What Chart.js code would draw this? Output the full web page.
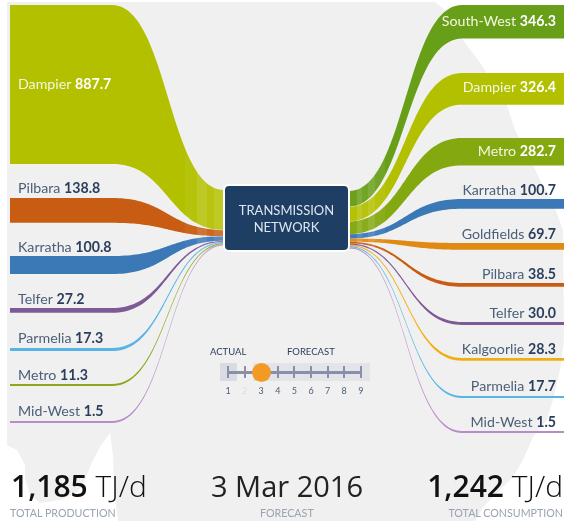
<!DOCTYPE html>
<html>
<head>
<meta charset="utf-8">
<script src="https://cdn.jsdelivr.net/npm/chart.js@4"></script>
<style>
    html, body { margin: 0; padding: 0; background: #fff; }
    #page { position: relative; width: 565px; height: 521px; overflow: hidden; font-family: Lato, sans-serif; color: #2b3e5c; }
    #map { position: absolute; inset: 0; background: #f0f0f0;
        clip-path: polygon(7px 2px, 435px 2px, 445px 10px, 455px 25px, 463px 40px, 478px 60px, 495px 85px, 507px 105px, 515px 130px, 533px 165px, 540px 180px, 552px 200px, 563px 230px, 564px 340px, 560px 370px, 553px 400px, 547px 420px, 533px 437px, 523px 460px, 513px 477px, 483px 507px, 475px 521px, 118px 521px, 114px 490px, 113px 455px, 110px 433px, 100px 447px, 92px 462px, 85px 480px, 78px 492px, 60px 500px, 40px 503px, 30px 495px, 25px 478px, 25px 465px, 17px 450px, 7px 445px); }
    canvas { position: absolute; left: 0; top: 0; }
    .abs { position: absolute; white-space: nowrap; }
    #network { left: 223px; top: 184px; width: 123px; height: 64px; background: #1e3f63; border: 2px solid #fff; border-radius: 6px; color: #dce6f0; font-size: 13px; line-height: 17px; text-align: center; padding-top: 0; }
    #network div { position: relative; top: 16px; }
    .bar { top: 363px; height: 18px; }
    .tick { top: 366px; width: 2px; height: 12px; background: #8a8ea8; }
    .num { top: 385px; width: 16px; text-align: center; font-size: 9px; color: #4b5f78; }
    .big { top: 466px; font-family: "Open Sans", sans-serif; font-size: 30px; font-weight: 300; color: #111; line-height: 40px; }
    .big b { font-weight: 600; }
    .date { font-size: 29px; font-weight: 400; color: #222; }
    .sub { top: 506px; font-size: 10.7px; line-height: 13px; color: #9aa3b0; }
</style>
</head>
<body>
<div id="page">
    <div id="map"></div>
    <canvas id="flowChart" width="565" height="521"></canvas>

    <div class="abs" id="network"><div>TRANSMISSION<br>NETWORK</div></div>

    <div class="abs" style="left:210px;top:346px;font-size:9.5px;">ACTUAL</div>
    <div class="abs" style="left:287px;top:346px;font-size:9.5px;">FORECAST</div>
    <div class="abs bar" style="left:220px;width:17px;background:#d9dbe3;"></div>
    <div class="abs bar" style="left:253px;width:117px;background:#e3e4ea;"></div>
    <div class="abs" style="left:228px;top:371px;width:134px;height:3px;background:#8a8ea8;"></div>
    <div id="ticks"></div>
    <div class="abs" style="left:252px;top:363px;width:19px;height:19px;border-radius:50%;background:#f39a26;"></div>

    <div class="abs big" style="left:11px;"><b>1,185</b> <span>TJ/d</span></div>
    <div class="abs big date" style="left:211px;">3 Mar 2016</div>
    <div class="abs big" style="right:2px;"><b>1,242</b> <span>TJ/d</span></div>
    <div class="abs sub" style="left:10px;">TOTAL PRODUCTION</div>
    <div class="abs sub" style="left:260px;">FORECAST</div>
    <div class="abs sub" style="right:2px;">TOTAL CONSUMPTION</div>
</div>

<script>
// production side, TJ/d
const leftCategories = ['Dampier', 'Pilbara', 'Karratha', 'Telfer', 'Parmelia', 'Metro', 'Mid-West']
const leftValues = [887.7, 138.8, 100.8, 27.2, 17.3, 11.3, 1.5]
// consumption side, TJ/d
const rightCategories = ['South-West', 'Dampier', 'Metro', 'Karratha', 'Goldfields', 'Pilbara', 'Telfer', 'Kalgoorlie', 'Parmelia', 'Mid-West']
const rightValues = [346.3, 326.4, 282.7, 100.7, 69.7, 38.5, 30.0, 28.3, 17.7, 1.5]
const sliderTicks = ['1', '2', '3', '4', '5', '6', '7', '8', '9']

const leftColors = ['#b2c000', '#c85c12', '#3a78b6', '#7d5a96', '#59b4e6', '#8aa818', '#b98cc8']
const rightColors = ['#689f18', '#b2c000', '#84a80f', '#3a78b6', '#e08a12', '#c85c12', '#7d5a96', '#f0ae10', '#59b4e6', '#b98cc8']

// layout, in page pixels
const centerScale = 0.045
const left = { scale: 0.179, outerX: 10, flatX: 112, innerX: 224, innerTop: 190,
    rowTops: [5, 198, 256, 308, 348, 384, 421], labelY: [84, 188, 247, 299, 338, 375, 411], labelX: 18,
    stripes: [[185, 197, .04], [197, 207, .15], [207, 214, .07], [214, 224, .15]] }
const right = { scale: 0.097, outerX: 564, flatX: 462, innerX: 349, innerTop: 191,
    rowTops: [5, 73, 138, 199, 243, 283, 322, 358, 396, 431], labelY: [21, 87, 151, 190, 234, 274, 313, 349, 386, 422], labelX: 556,
    stripes: [[349, 357, .02], [357, 362, .15], [362, 368, .06], [368, 375, .15], [375, 385, .06]] }

const STEPS = 48
const LABEL_FONT = '14.2px Lato, sans-serif'
const VALUE_FONT = 'bold 14.2px Lato, sans-serif'

function curve(xFrom, yFrom, xTo, yTo) {
    const pts = []
    for (let i = 0; i <= STEPS; i++) {
        const t = i / STEPS
        const mt = 1 - t
        const kx = 1.5 * t * mt * mt + 1.5 * t * t * mt + t * t * t
        const ky = 3 * t * t * mt + t * t * t
        pts.push({ x: xFrom + (xTo - xFrom) * kx, y: yFrom + (yTo - yFrom) * ky })
    }
    return pts
}

function bandFill(ctx2d, color, stripes) {
    const g = ctx2d.createLinearGradient(0, 0, 565, 0)
    const r = parseInt(color.slice(1, 3), 16)
    const gr = parseInt(color.slice(3, 5), 16)
    const b = parseInt(color.slice(5, 7), 16)
    const mix = a => `rgb(${r + (255 - r) * a},${gr + (255 - gr) * a},${b + (255 - b) * a})`
    g.addColorStop(0, color)
    stripes.forEach(([from, to, a]) => {
        g.addColorStop(from / 565, color)
        g.addColorStop(from / 565, mix(a))
        g.addColorStop(to / 565, mix(a))
        g.addColorStop(to / 565, color)
    })
    g.addColorStop(1, color)
    return g
}

function buildSide(side, values, colors, ctx2d) {
    const sets = []
    let inner = side.innerTop
    values.forEach((v, i) => {
        // the thin flows still have to be visible as a line
        const outerH = Math.max(v * side.scale, 2)
        const innerH = Math.max(v * centerScale, 1.2)
        const top = side.rowTops[i]
        const upper = [{ x: side.outerX, y: top }, ...curve(side.flatX, top, side.innerX, inner)]
        const lower = [{ x: side.outerX, y: top + outerH }, ...curve(side.flatX, top + outerH, side.innerX, inner + innerH)]
        sets.push({ data: upper, showLine: true, pointRadius: 0, borderWidth: 0, tension: 0, fill: '+1', backgroundColor: bandFill(ctx2d, colors[i], side.stripes) })
        sets.push({ data: lower, showLine: true, pointRadius: 0, tension: 0, fill: false,
            borderWidth: outerH > 15 ? 0.6 : 0, borderColor: 'rgba(255,255,255,.55)' })
        inner += innerH
    })
    return sets
}

const flowLabels = {
    id: 'flowLabels',
    afterDatasetsDraw(chart) {
        const { ctx, scales } = chart
        const drawSide = (side, names, values, align, whiteRows) => {
            names.forEach((name, i) => {
                const x = scales.x.getPixelForValue(side.labelX)
                const y = scales.y.getPixelForValue(side.labelY[i])
                const value = values[i].toFixed(1)
                const onBand = i < whiteRows
                ctx.textBaseline = 'middle'
                ctx.textAlign = 'left'
                ctx.font = LABEL_FONT
                const w1 = ctx.measureText(name + ' ').width
                ctx.font = VALUE_FONT
                const w2 = ctx.measureText(value).width
                const start = align === 'right' ? x - w1 - w2 : x
                ctx.font = LABEL_FONT
                ctx.fillStyle = onBand ? '#f4f7e0' : '#4b6078'
                ctx.fillText(name, start, y)
                ctx.font = VALUE_FONT
                ctx.fillStyle = onBand ? '#ffffff' : '#2b3e5c'
                ctx.fillText(value, start + w1, y)
            })
        }
        drawSide(left, leftCategories, leftValues, 'left', 1)
        drawSide(right, rightCategories, rightValues, 'right', 3)
    }
}

const canvas = document.getElementById('flowChart')
const ctx = canvas.getContext('2d')

new Chart(ctx, {
    type: 'scatter',
    data: {
        datasets: [
            ...buildSide(left, leftValues, leftColors, ctx),
            ...buildSide(right, rightValues, rightColors, ctx)
        ]
    },
    plugins: [flowLabels],
    options: {
        responsive: false,
        animation: false,
        events: [],
        layout: { padding: 0 },
        scales: {
            x: { type: 'linear', display: false, min: 0, max: 565 },
            y: { type: 'linear', display: false, min: 0, max: 521, reverse: true }
        },
        plugins: { legend: { display: false }, tooltip: { enabled: false } }
    }
})

// slider ticks and numbers
const ticksBox = document.getElementById('ticks')
sliderTicks.forEach((label, i) => {
    const x = 228 + i * 16.6
    ticksBox.insertAdjacentHTML('beforeend',
        `<div class="abs tick" style="left:${x - 1}px"></div>` +
        `<div class="abs num" style="left:${x - 8}px;${label === '2' ? 'color:#dcdcdc' : ''}">${label}</div>`)
})
</script>
</body>
</html>
